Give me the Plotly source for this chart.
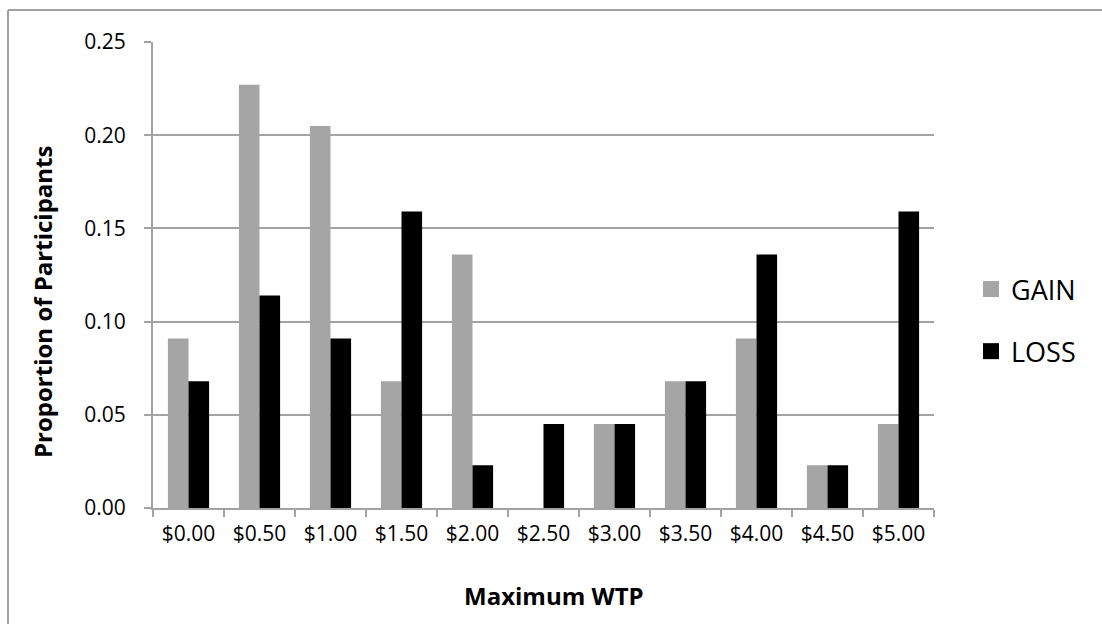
import plotly.graph_objects as go

# Maximum willingness-to-pay bins and share of participants per condition
wtp_labels = ["$0.00", "$0.50", "$1.00", "$1.50", "$2.00", "$2.50",
              "$3.00", "$3.50", "$4.00", "$4.50", "$5.00"]
gain = [0.091, 0.227, 0.205, 0.068, 0.136, 0.0, 0.045, 0.068, 0.091, 0.023, 0.045]
loss = [0.068, 0.114, 0.091, 0.159, 0.023, 0.045, 0.045, 0.068, 0.136, 0.023, 0.159]
y_ticks = [0.0, 0.05, 0.10, 0.15, 0.20, 0.25]

GAIN_COLOR = "#a5a5a5"
LOSS_COLOR = "#000000"
GRID = "#a3a3a3"
FONT = "Open Sans"

W, H = 1102, 624
L, R, T, B = 153, 168, 42, 116
pw, ph = W - L - R, H - T - B


def px(x):
    return (x - L) / pw


def py(y):
    return (H - B - y) / ph


fig = go.Figure()
fig.add_trace(go.Bar(x=wtp_labels, y=gain, name="GAIN", marker_color=GAIN_COLOR,
                     marker_line_width=0, showlegend=False))
fig.add_trace(go.Bar(x=wtp_labels, y=loss, name="LOSS", marker_color=LOSS_COLOR,
                     marker_line_width=0, showlegend=False))

# legend entries with larger square swatches
for name, col in [("GAIN", GAIN_COLOR), ("LOSS", LOSS_COLOR)]:
    fig.add_trace(go.Scatter(x=[None], y=[None], mode="markers", name=name,
                             legendgroup=name,
                             marker=dict(symbol="square", size=16, color=col)))

BORDER = dict(color="#a0a0a0", width=2)

fig.update_layout(
    width=W, height=H,
    margin=dict(l=L, r=R, t=T, b=B, autoexpand=False),
    paper_bgcolor="white", plot_bgcolor="white",
    font=dict(family=FONT, size=21, color="#000000"),
    barmode="group", bargap=0.42, bargroupgap=0,
    showlegend=True,
    legend=dict(x=px(971), y=py(265), xanchor="left", yanchor="top",
                font=dict(size=27, family=FONT), tracegroupgap=24,
                bgcolor="rgba(0,0,0,0)", itemsizing="trace"),
    xaxis=dict(type="category", showgrid=False, showline=True, linecolor=GRID,
               linewidth=2, ticks="outside", ticklen=7, tickwidth=2,
               tickcolor=GRID, tickson="boundaries", ticklabelstandoff=6,
               tickfont=dict(size=21)),
    yaxis=dict(range=[0, 0.25], tickvals=y_ticks, tickformat=".2f",
               showgrid=True, gridcolor=GRID, gridwidth=2, zeroline=False,
               showline=True, linecolor=GRID, linewidth=2, ticks="outside",
               ticklen=7, tickwidth=2, tickcolor=GRID, ticklabelstandoff=14,
               tickfont=dict(size=21)),
    annotations=[
        dict(text="<b>Proportion of Participants</b>", xref="paper", yref="paper",
             x=px(42), y=py(302), textangle=-90, showarrow=False,
             xanchor="center", yanchor="middle", font=dict(size=24)),
        dict(text="<b>Maximum WTP</b>", xref="paper", yref="paper",
             x=px(554), y=py(595), showarrow=False,
             xanchor="center", yanchor="middle", font=dict(size=24)),
    ],
    shapes=[
        # chart frame: left and top edges
        dict(type="line", xref="paper", yref="paper",
             x0=px(8), y0=py(10), x1=px(8), y1=py(H), line=BORDER),
        dict(type="line", xref="paper", yref="paper",
             x0=px(8), y0=py(10), x1=px(W), y1=py(10), line=BORDER),
    ],
)

fig.write_html("out.html")
